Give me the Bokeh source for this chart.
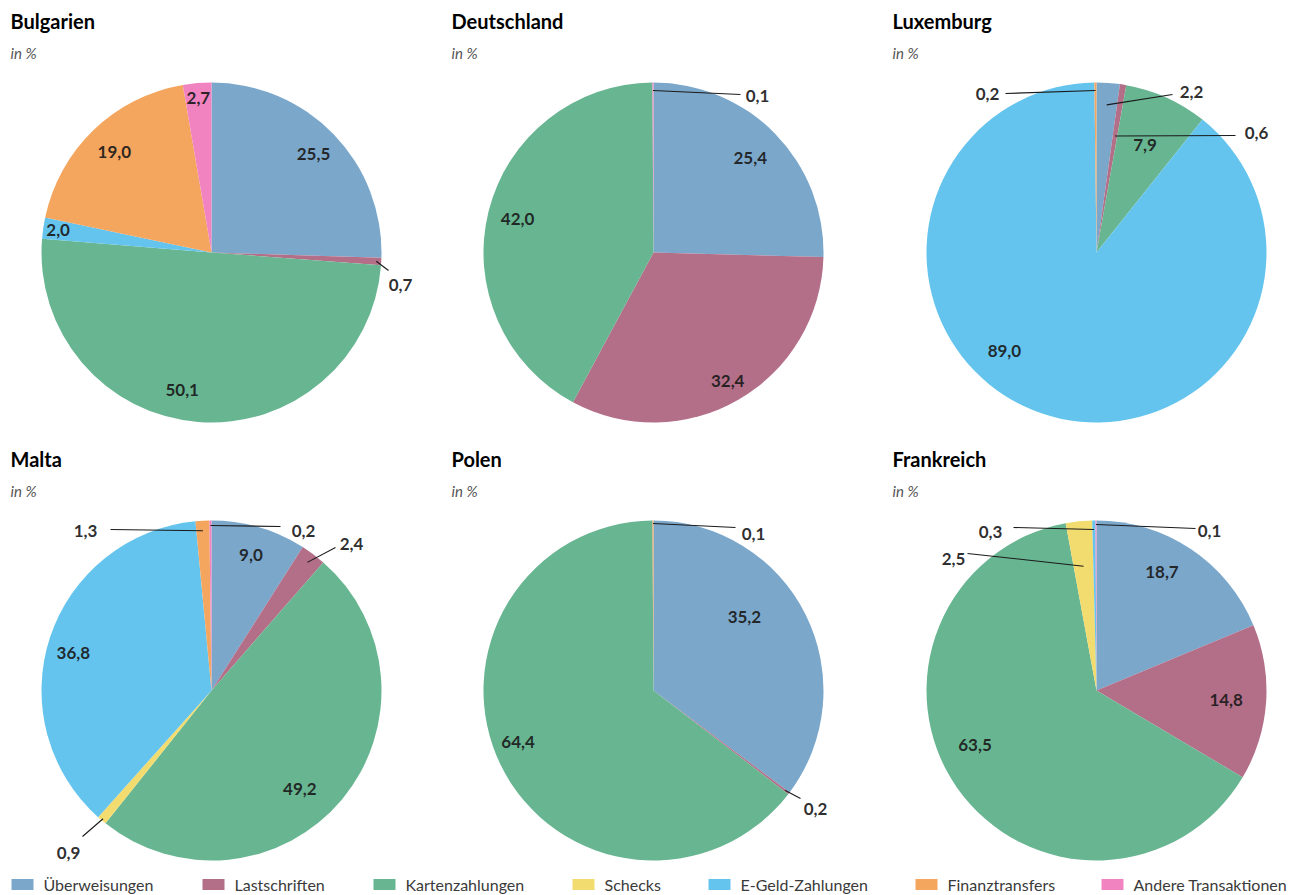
import math

from bokeh.core.properties import value
from bokeh.embed import file_html
from bokeh.models import ColumnDataSource, Range1d
from bokeh.plotting import figure
from bokeh.resources import INLINE

# ---------------------------------------------------------------- data
categories = [
    "Überweisungen",
    "Lastschriften",
    "Kartenzahlungen",
    "Schecks",
    "E-Geld-Zahlungen",
    "Finanztransfers",
    "Andere Transaktionen",
]
colors = ["#7ba7cb", "#b36e88", "#67b591", "#f3dc6f", "#64c4ee", "#f4a55e", "#f184c0"]

countries = ["Bulgarien", "Deutschland", "Luxemburg", "Malta", "Polen", "Frankreich"]
bulgarien = [25.5, 0.7, 50.1, 0.0, 2.0, 19.0, 2.7]
deutschland = [25.4, 32.4, 42.0, 0.0, 0.0, 0.0, 0.1]
luxemburg = [2.2, 0.6, 7.9, 0.0, 89.0, 0.2, 0.0]
malta = [9.0, 2.4, 49.2, 0.9, 36.8, 1.3, 0.2]
polen = [35.2, 0.2, 64.4, 0.0, 0.0, 0.1, 0.0]
frankreich = [18.7, 14.8, 63.5, 2.5, 0.3, 0.0, 0.1]
shares = [bulgarien, deutschland, luxemburg, malta, polen, frankreich]

# ---------------------------------------------------------------- layout
W, H = 1304, 895
R = 170
FONT = "Lato"
col_x = [211, 653, 1096]          # pie centres (screen px, from the left)
row_y = [252, 690]                # pie centres (screen px, from the top)
title_x = [10, 451, 892]
title_y = [20, 458]

# label placement per pie, keyed by slice index
#   ("in", radius, angle_deg or None)  -> label inside the slice
#   ("out", anchor_radius, end_dx, end_dy, label_dx, label_dy) -> leader line
label_specs = [
    {0: ("in", 142, None), 1: ("out", 165, 177, 18, 189, 32), 2: ("in", 141, 192),
     4: ("in", 155, None), 5: ("in", 140, None), 6: ("in", 155, None)},
    {0: ("in", 135, None), 1: ("in", 148, None), 2: ("in", 140, None),
     6: ("out", 162, 87, -158, 104, -157)},
    {0: ("out", 148, 76, -158, 95, -161), 1: ("out", 118, 139, -117, 160, -120),
     2: ("in", 118, None), 4: ("in", 135, 223), 5: ("out", 162, -91, -159, -109, -159)},
    {0: ("in", 141, None), 1: ("out", 160, 124, -143, 140, -147), 2: ("in", 132, 138),
     3: ("out", 168, -129, 146, -143, 162), 4: ("in", 143, 285),
     5: ("out", 160, -101, -161, -126, -160), 6: ("out", 165, 69, -164, 92, -160)},
    {0: ("in", 117, 51), 1: ("out", 165, 147, 108, 162, 118), 2: ("in", 145, 249),
     5: ("out", 167, 82, -163, 100, -157)},
    {0: ("in", 135, 29), 1: ("in", 130, None), 2: ("in", 133, 246),
     3: ("out", 125, -129, -137, -143, -132), 4: ("out", 161, -83, -163, -106, -159),
     6: ("out", 166, 99, -162, 113, -160)},
]


def fmt(v):
    return f"{v:.1f}".replace(".", ",")


def polar(cx, cy, theta_deg, r):
    """Screen position (y up) of a point at clockwise angle theta from 12 o'clock."""
    t = math.radians(theta_deg)
    return cx + r * math.sin(t), (H - cy) + r * math.cos(t)


p = figure(width=W, height=H, output_backend="svg", toolbar_location=None,
           x_range=Range1d(0, W), y_range=Range1d(0, H), min_border=0)
p.axis.visible = False
p.grid.visible = False
p.outline_line_color = None
p.background_fill_color = "white"

for k, (name, vals) in enumerate(zip(countries, shares)):
    cx, cy = col_x[k % 3], row_y[k // 3]
    total = sum(vals)

    # wedges, clockwise from 12 o'clock
    starts, ends, fills, mids = [], [], [], {}
    acc = 0.0
    for i, v in enumerate(vals):
        if v <= 0:
            continue
        a0 = acc / total * 360.0
        acc += v
        a1 = acc / total * 360.0
        starts.append(math.pi / 2 - math.radians(a0))
        ends.append(math.pi / 2 - math.radians(a1))
        fills.append(colors[i])
        mids[i] = (a0 + a1) / 2
    src = ColumnDataSource(dict(x=[cx] * len(starts), y=[H - cy] * len(starts),
                                s=starts, e=ends, c=fills))
    p.wedge(x="x", y="y", radius=R, start_angle="s", end_angle="e", direction="clock",
            fill_color="c", line_color=None, source=src)

    # value labels
    lx, ly, lt = [], [], []
    for i, spec in label_specs[k].items():
        txt = fmt(vals[i])
        if spec[0] == "in":
            _, r, ang = spec
            x, y = polar(cx, cy, mids[i] if ang is None else ang, r)
        else:
            _, ar, edx, edy, ldx, ldy = spec
            x0, y0 = polar(cx, cy, mids[i], ar)
            x1, y1 = cx + edx, H - (cy + edy)
            p.line([x0, x1], [y0, y1], line_color="#1a1a1a", line_width=1.1)
            x, y = cx + ldx, H - (cy + ldy)
        lx.append(x)
        ly.append(y)
        lt.append(txt)
    p.text(x=lx, y=ly, text=lt, text_font=value(FONT), text_font_size="17px",
           text_font_style="bold", text_color="#1a1a1a", text_align="center",
           text_baseline="middle", text_alpha=0.92)

    # titles
    tx, ty = title_x[k % 3], title_y[k // 3]
    p.text(x=[tx], y=[H - ty], text=[name], text_font=value(FONT),
           text_font_size="20px", text_font_style="bold", text_color="#000000",
           text_align="left", text_baseline="alphabetic")
    p.text(x=[tx], y=[H - ty - 32], text=["in %"], text_font=value(FONT),
           text_font_size="15px", text_font_style="italic", text_color="#555555",
           text_align="left", text_baseline="alphabetic")

# legend row along the bottom
legend_text_x = [43, 234, 405, 604, 740, 947, 1133]
leg_y = H - 884
p.rect(x=[tx - 21 for tx in legend_text_x], y=[leg_y] * len(categories), width=22,
       height=11, fill_color=colors, line_color=None)
p.text(x=legend_text_x, y=[leg_y] * len(categories), text=categories,
       text_font=value(FONT), text_font_size="16px", text_color="#3a3a3a",
       text_align="left", text_baseline="middle")

open("out.html", "w").write(file_html(p, INLINE))
